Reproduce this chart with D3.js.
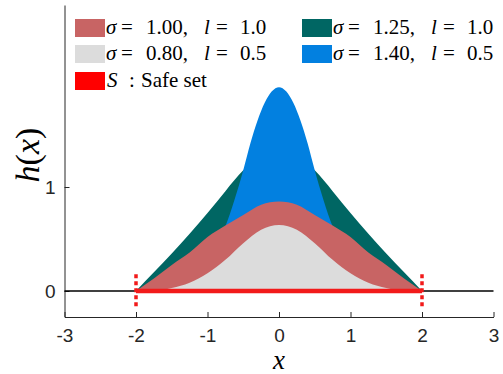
<!DOCTYPE html>
<head>
  <meta charset="utf-8">
  <script src="https://d3js.org/d3.v7.min.js"></script>
  <style>
    body { margin:0; background:#fff; }
    .tick text { font-family:"Liberation Sans", Arial, sans-serif; font-size:19px; fill:#262626; }
    .axis path, .axis line { stroke:#262626; }
  </style>
</head>
<body>
<script>
  // x grid shared by three of the curves
  var xs = [-2, -1.75, -1.5, -1.25, -1, -0.75, -0.5, -0.25, 0, 0.25, 0.5, 0.75, 1, 1.25, 1.5, 1.75, 2];
  var tealY = [0, 0.18, 0.36, 0.55, 0.75, 0.96, 1.16, 1.29, 1.35, 1.29, 1.16, 0.96, 0.75, 0.55, 0.36, 0.18, 0];
  var redY  = [0, 0.12, 0.25, 0.37, 0.52, 0.63, 0.73, 0.83, 0.86, 0.83, 0.73, 0.63, 0.52, 0.37, 0.25, 0.12, 0];
  var grayY = [0, 0.005, 0.03, 0.08, 0.17, 0.30, 0.46, 0.59, 0.635, 0.59, 0.46, 0.30, 0.17, 0.08, 0.03, 0.005, 0];
  // blue curve is narrower, read on a finer grid near the peak
  var blueX = [-2, -1.5, -1, -0.75, -0.5, -0.4, -0.3, -0.2, -0.1, 0, 0.1, 0.2, 0.3, 0.4, 0.5, 0.75, 1, 1.5, 2];
  var blueY = [0, 0.02, 0.27, 0.62, 1.16, 1.42, 1.64, 1.81, 1.92, 1.96, 1.92, 1.81, 1.64, 1.42, 1.16, 0.62, 0.27, 0.02, 0];

  var safeSet = [-2, 2];
  var xTicks = [-3, -2, -1, 0, 1, 2, 3];
  var yTicks = [0, 1];

  var legendSigma = ["1.00", "1.25", "0.80", "1.40"];
  var legendL = ["1.0", "1.0", "0.5", "0.5"];
  var legendColor = ["#c86464", "#006663", "#dcdcdc", "#0280e0"];

  var SERIF = "Liberation Serif";

  var W = 503, H = 374;
  var svg = d3.select("body").append("svg")
    .attr("width", W)
    .attr("height", H);

  var x = d3.scaleLinear().domain([-3, 3]).range([64.5, 493.5]);
  var y = d3.scaleLinear().domain([-0.25, 2.75]).range([317, 5]);

  function area(xv) {
    return d3.area()
      .x(function(d, i) { return x(xv[i]); })
      .y0(y(0))
      .y1(function(d) { return y(d); })
      .curve(d3.curveMonotoneX);
  }

  // draw order: teal, blue, red, gray
  svg.append("path").datum(tealY).attr("d", area(xs)).attr("fill", legendColor[1]);
  svg.append("path").datum(blueY).attr("d", area(blueX)).attr("fill", legendColor[3]);
  svg.append("path").datum(redY).attr("d", area(xs)).attr("fill", legendColor[0]);
  svg.append("path").datum(grayY).attr("d", area(xs)).attr("fill", legendColor[2]);

  // axes
  svg.append("g")
    .attr("class", "axis")
    .attr("transform", "translate(0," + y(-0.25) + ")")
    .call(d3.axisBottom(x).tickValues(xTicks).tickSizeInner(-5).tickSizeOuter(0).tickPadding(12)
      .tickFormat(d3.format("d")));

  svg.append("g")
    .attr("class", "axis")
    .attr("transform", "translate(" + x(-3) + ",0)")
    .call(d3.axisLeft(y).tickValues(yTicks).tickSizeInner(-5).tickSizeOuter(0).tickPadding(9)
      .tickFormat(d3.format("d")));

  // plain hyphen for the minus sign, as in the original
  svg.selectAll(".tick text").text(function(d) { return String(d); });

  // y = 0 baseline
  svg.append("line")
    .attr("x1", x(-3)).attr("x2", x(3))
    .attr("y1", y(0)).attr("y2", y(0))
    .attr("stroke", "#000").attr("stroke-width", 1.3);

  // safe set
  svg.append("line")
    .attr("x1", x(safeSet[0])).attr("x2", x(safeSet[1]))
    .attr("y1", y(0)).attr("y2", y(0))
    .attr("stroke", "#f21a1a").attr("stroke-width", 4.5);

  svg.selectAll(".bound")
    .data(safeSet)
    .enter().append("line")
    .attr("x1", function(d) { return x(d); })
    .attr("x2", function(d) { return x(d); })
    .attr("y1", y(0.16)).attr("y2", y(-0.16))
    .attr("stroke", "#f21a1a").attr("stroke-width", 3.5)
    .attr("stroke-dasharray", "4,3");

  // axis labels
  var ylab = svg.append("text")
    .attr("transform", "translate(39,155) rotate(-90)")
    .attr("text-anchor", "middle")
    .attr("font-family", SERIF)
    .attr("font-size", 34);
  ylab.append("tspan").attr("font-style", "italic").text("h");
  ylab.append("tspan").text("(");
  ylab.append("tspan").attr("font-style", "italic").text("x");
  ylab.append("tspan").text(")");

  svg.append("text")
    .attr("x", x(0)).attr("y", 369)
    .attr("text-anchor", "middle")
    .attr("font-family", SERIF)
    .attr("font-style", "italic")
    .attr("font-size", 27)
    .text("x");

  // legend
  var colX = [75, 302], rowY = [19, 45, 72];
  var leg = svg.append("g");

  legendSigma.forEach(function(s, i) {
    var cx = colX[i % 2], ry = rowY[Math.floor(i / 2)];
    leg.append("rect")
      .attr("x", cx).attr("y", ry)
      .attr("width", 30).attr("height", 18)
      .attr("fill", legendColor[i]);
    var t = leg.append("text").attr("font-family", SERIF).attr("font-size", 21);
    var tx = cx + 31, ty = ry + 15;
    var parts = [["\u03c3", 0, true], ["=", 15, false], [s + ",", 40, false],
                 ["l", 98, true], ["=", 110, false], [legendL[i], 134, false]];
    parts.forEach(function(p) {
      t.append("tspan")
        .attr("x", tx + p[1]).attr("y", ty)
        .attr("font-style", p[2] ? "italic" : "normal")
        .text(p[0]);
    });
  });

  leg.append("rect")
    .attr("x", colX[0]).attr("y", rowY[2])
    .attr("width", 30).attr("height", 18)
    .attr("fill", "#ff0000");
  var st = leg.append("text").attr("font-family", SERIF).attr("font-size", 21);
  st.append("tspan").attr("x", colX[0] + 32).attr("y", rowY[2] + 15)
    .attr("font-style", "italic").text("S");
  st.append("tspan").attr("x", colX[0] + 54).attr("y", rowY[2] + 15).text(":");
  st.append("tspan").attr("x", colX[0] + 66).attr("y", rowY[2] + 15).text("Safe set");
</script>
</body>
